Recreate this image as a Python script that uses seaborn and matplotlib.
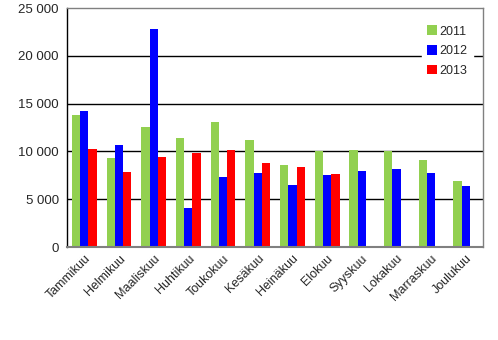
import matplotlib
matplotlib.use("Agg")
import matplotlib.pyplot as plt
import seaborn as sns
import pandas as pd
import numpy as np
from matplotlib.ticker import FuncFormatter

months = ["Tammikuu", "Helmikuu", "Maaliskuu", "Huhtikuu", "Toukokuu", "Kesäkuu",
          "Heinäkuu", "Elokuu", "Syyskuu", "Lokakuu", "Marraskuu", "Joulukuu"]
v2011 = [13800, 9300, 12550, 11400, 13050, 11200, 8600, 10050, 10150, 10050, 9100, 6900]
v2012 = [14200, 10650, 22850, 4100, 7350, 7750, 6500, 7550, 7950, 8150, 7750, 6400]
v2013 = [10250, 7850, 9400, 9850, 10150, 8800, 8400, 7650, np.nan, np.nan, np.nan, np.nan]
years = ["2011", "2012", "2013"]
colors = ["#92D050", "#0000FF", "#FF0000"]

rows = []
for y, vals in zip(years, [v2011, v2012, v2013]):
    for m, v in zip(months, vals):
        rows.append({"month": m, "year": y, "value": v})
df = pd.DataFrame(rows)

sns.set_style("white")
plt.rcParams['font.family'] = ['Liberation Sans', 'DejaVu Sans']

fig = plt.figure(figsize=(4.98, 3.40), dpi=100)
ax = fig.add_axes([0.1345, 0.2735, 0.8355, 0.7025])

# gridlines
for g in [5000, 10000, 15000, 20000]:
    ax.axhline(g, color="black", lw=1.0, zorder=0)

sns.barplot(data=df, x="month", y="value", hue="year", palette=colors,
            width=0.72, gap=0, saturation=1, ax=ax, zorder=2, errorbar=None,
            linewidth=0, edgecolor="none")

ax.set_xlim(-0.5, 11.5)
ax.set_ylim(0, 25000)
ax.set_yticks(np.arange(0, 25001, 5000))
ax.yaxis.set_major_formatter(FuncFormatter(lambda v, p: f"{int(v):,}".replace(",", " ")))
ax.set_xlabel("")
ax.set_ylabel("")

ax.set_xticks(np.arange(12))
ax.set_xticklabels(months, rotation=45, ha="right", rotation_mode="anchor", fontsize=9)
ax.tick_params(axis="x", length=0, pad=4)
ax.set_xticks(np.arange(-0.5, 12, 1), minor=True)
ax.tick_params(axis="x", which="minor", length=4, width=1, color="black", direction="out")
ax.tick_params(axis="y", length=4, width=1, color="black", direction="out", labelsize=9.5, pad=2)

for s in ["top", "right"]:
    ax.spines[s].set_color("#808080")
    ax.spines[s].set_linewidth(1)
ax.spines["bottom"].set_color("#808080")
ax.spines["bottom"].set_linewidth(1.5)
ax.spines["left"].set_color("black")
ax.spines["left"].set_linewidth(1)

leg = ax.legend(loc="upper right", bbox_to_anchor=(0.99, 0.975), frameon=True,
                fontsize=9, handlelength=0.8, handleheight=0.8, handletextpad=0.2,
                labelspacing=0.6, borderpad=0.4)
leg.get_frame().set_facecolor("white")
leg.get_frame().set_edgecolor("white")
leg.get_frame().set_alpha(1)
leg.set_zorder(5)

fig.savefig("out.png", dpi=100)
